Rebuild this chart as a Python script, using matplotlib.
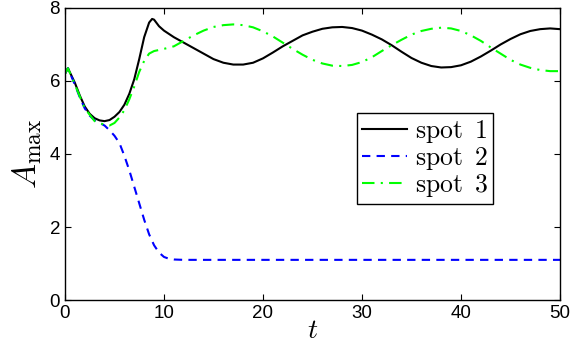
import matplotlib
matplotlib.use('Agg')
import matplotlib.pyplot as plt

plt.rcParams['mathtext.fontset'] = 'cm'
plt.rcParams['font.family'] = ['Liberation Sans', 'DejaVu Sans']

# spot 1 (black, solid)
t1 = [0, 0.3, 1, 1.5, 2, 2.5, 3, 3.5, 4, 4.5, 5, 5.5, 6, 6.5, 7, 7.5, 8, 8.5, 8.8, 9, 9.5,
      10, 11, 12, 13, 14, 15, 16, 17, 18, 19, 20, 21, 22, 23, 24, 25, 26, 27, 28, 29, 30,
      31, 32, 33, 34, 35, 36, 37, 38, 39, 40, 41, 42, 43, 44, 45, 46, 47, 48, 49, 50]
spot1 = [6.2, 6.35, 5.95, 5.6, 5.3, 5.1, 4.98, 4.92, 4.9, 4.93, 5.02, 5.15, 5.35, 5.65, 6.05,
         6.6, 7.2, 7.6, 7.7, 7.68, 7.5, 7.38, 7.2, 7.05, 6.9, 6.75, 6.6, 6.5, 6.45, 6.45, 6.5,
         6.62, 6.78, 6.95, 7.1, 7.25, 7.35, 7.43, 7.47, 7.48, 7.45, 7.38, 7.27, 7.14, 6.98,
         6.8, 6.63, 6.5, 6.41, 6.37, 6.38, 6.43, 6.53, 6.67, 6.83, 7.0, 7.15, 7.28, 7.37,
         7.42, 7.44, 7.42]

# spot 2 (blue, dashed)
t2 = [0, 0.3, 1, 1.5, 2, 2.5, 3, 3.5, 4, 4.5, 5, 5.5, 6, 6.5, 7, 7.5, 8, 8.5, 9, 9.5,
      10, 10.5, 11, 12, 20, 30, 40, 50]
spot2 = [6.2, 6.35, 5.9, 5.55, 5.25, 5.05, 4.92, 4.85, 4.78, 4.65, 4.5, 4.3, 3.95, 3.55,
         3.1, 2.65, 2.2, 1.8, 1.5, 1.3, 1.18, 1.13, 1.11, 1.1, 1.1, 1.1, 1.1, 1.1]

# spot 3 (green, dash-dot)
t3 = [0, 0.3, 1, 2, 3, 4, 4.5, 5, 5.5, 6, 6.5, 7, 7.5, 8, 8.5, 9, 10, 11, 12, 13, 14, 15,
      16, 17, 18, 19, 20, 21, 22, 23, 24, 25, 26, 27, 28, 29, 30, 31, 32, 33, 34, 35, 36,
      37, 38, 39, 40, 41, 42, 43, 44, 45, 46, 47, 48, 49, 50]
spot3 = [6.2, 6.35, 5.9, 5.25, 4.9, 4.8, 4.78, 4.85, 5.0, 5.2, 5.5, 5.85, 6.25, 6.55, 6.75,
         6.82, 6.88, 6.95, 7.1, 7.25, 7.38, 7.48, 7.53, 7.55, 7.53, 7.47, 7.36, 7.22, 7.05,
         6.88, 6.72, 6.58, 6.48, 6.42, 6.41, 6.44, 6.52, 6.65, 6.82, 6.98, 7.13, 7.27, 7.37,
         7.43, 7.46, 7.44, 7.37, 7.25, 7.1, 6.92, 6.75, 6.58, 6.45, 6.36, 6.3, 6.27, 6.27]

labels = [r'$\mathrm{spot\;\;1}$', r'$\mathrm{spot\;\;2}$', r'$\mathrm{spot\;\;3}$']

fig = plt.figure(figsize=(5.76, 3.47), dpi=100)
ax = fig.add_axes([0.1128, 0.1354, 0.8594, 0.8416])

ax.plot(t1, spot1, color='k', lw=1.5, label=labels[0])
ax.plot(t2, spot2, color=(0, 0, 1), lw=1.5, ls=(0, (4, 3)), label=labels[1])
ax.plot(t3, spot3, color=(0, 1, 0), lw=1.5, ls=(0, (6, 3, 1, 3)), label=labels[2])

ax.set_xlim(0, 50)
ax.set_ylim(0, 8)
ax.set_xticks([0, 10, 20, 30, 40, 50])
ax.set_yticks([0, 2, 4, 6, 8])
ax.tick_params(direction='in', top=True, right=True, labelsize=13.5, length=4, width=0.8)
for s in ax.spines.values():
    s.set_linewidth(1.0)

ax.set_xlabel(r'$t$', fontsize=20, labelpad=-3)
ax.set_ylabel(r'$A_{\max}$', fontsize=24, labelpad=4)

leg = ax.legend(loc='upper left', bbox_to_anchor=(0.59, 0.64), borderaxespad=0,
                fontsize=18.5, handlelength=1.75, handletextpad=0.3, labelspacing=0.0,
                fancybox=False, edgecolor='k', framealpha=1, borderpad=0.2)
leg.get_frame().set_linewidth(1.0)

fig.savefig('out.png', dpi=100)
